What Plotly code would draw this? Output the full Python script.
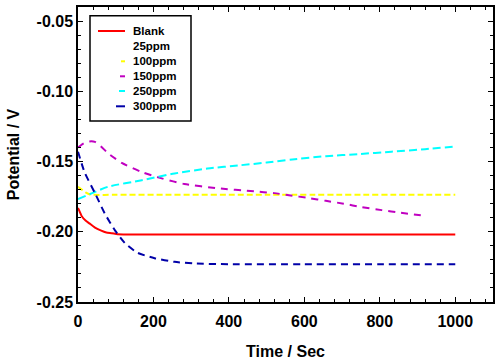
import plotly.graph_objects as go

# ---- data ----
t_blank = [0, 5, 10, 20, 30, 45, 60, 75, 90, 105, 150, 300, 500, 700, 1000]
v_blank = [-0.183, -0.186, -0.189, -0.192, -0.194, -0.197, -0.199, -0.2005, -0.201, -0.2017, -0.202, -0.202, -0.202, -0.202, -0.202]

t_25 = [0, 1000]
v_25 = [-0.165, -0.165]

t_100 = [0, 10, 20, 32, 100, 500, 1000]
v_100 = [-0.168, -0.170, -0.172, -0.1735, -0.1737, -0.1737, -0.1737]

t_150 = [0, 15, 30, 45, 60, 79, 116, 169, 222, 282, 369, 467, 520, 559, 612, 657, 704, 752, 805, 855, 920]
v_150 = [-0.140, -0.137, -0.1357, -0.136, -0.139, -0.144, -0.151, -0.1575, -0.162, -0.166, -0.169, -0.1712, -0.1725, -0.174, -0.176, -0.178, -0.180, -0.1825, -0.1846, -0.1865, -0.1887]

t_250 = [0, 36, 79, 169, 256, 343, 432, 500, 568, 657, 744, 831, 920, 1000]
v_250 = [-0.1768, -0.1727, -0.168, -0.1633, -0.1585, -0.155, -0.1526, -0.1507, -0.1485, -0.1462, -0.1447, -0.143, -0.1412, -0.1393]

t_300 = [0, 18, 45, 71, 98, 124, 158, 203, 256, 309, 400, 600, 800, 1000]
v_300 = [-0.143, -0.158, -0.1725, -0.187, -0.199, -0.208, -0.215, -0.2188, -0.2214, -0.2226, -0.2231, -0.2231, -0.2231, -0.2231]

x_tickvals = [0, 200, 400, 600, 800, 1000]
x_ticktext = ["0", "200", "400", "600", "800", "1000"]
y_tickvals = [-0.25, -0.20, -0.15, -0.10, -0.05]
y_ticktext = ["-0.25", "-0.20", "-0.15", "-0.10", "-0.05"]

names = ["Blank", "25ppm", "100ppm", "150ppm", "250ppm", "300ppm"]
colors = ["#ff0000", "#ffffff", "#ffff00", "#c000c0", "#00ffff", "#0000a8"]
dashes = ["solid", "solid", "6px,3px", "7px,6px", "8px,4px", "7px,5px"]
series = [(t_blank, v_blank), (t_25, v_25), (t_100, v_100), (t_150, v_150), (t_250, v_250), (t_300, v_300)]

# layout geometry (pixels)
W, H = 500, 363
ML, MR, MT, MB = 78, 7, 7, 61
PW, PH = W - ML - MR, H - MT - MB


def px2paper(px, py):
    return (px - ML) / PW, (H - MB - py) / PH


fig = go.Figure()
for (tx, vy), n, c, d in zip(series, names, colors, dashes):
    fig.add_trace(go.Scatter(x=tx, y=vy, mode="lines", name=n, showlegend=False,
                             line=dict(color=c, width=2, dash=d, shape="spline", smoothing=0.6)))

font_fam = "Liberation Sans, Arial, sans-serif"
axis_common = dict(showline=True, linecolor="black", linewidth=1.5, mirror="allticks",
                   ticks="inside", ticklen=5, tickwidth=1.2, tickcolor="black",
                   showgrid=False, zeroline=False, automargin=False,
                   tickfont=dict(family=font_fam, size=16, color="black", weight="bold"),
                   title_font=dict(family=font_fam, size=16, color="black", weight="bold"))

fig.update_xaxes(range=[0, 1100], tickvals=x_tickvals, ticktext=x_ticktext, ticklabelstandoff=4,
                 minor=dict(ticks="inside", dtick=40, tick0=0, ticklen=3, tickcolor="black"),
                 title_text="Time / Sec", title_standoff=17, **axis_common)
fig.update_yaxes(range=[-0.25, -0.04], tickvals=y_tickvals, ticktext=y_ticktext,
                 minor=dict(ticks="inside", dtick=0.01, tick0=-0.25, ticklen=3, tickcolor="black"),
                 title_text="Potential / V", title_standoff=13, **axis_common)

# manual legend (box, samples, labels)
shapes = []
annotations = []
x0, y0 = px2paper(90, 15.7)
x1, y1 = px2paper(191, 121)
shapes.append(dict(type="rect", xref="paper", yref="paper", x0=x0, y0=y1, x1=x1, y1=y0,
                   line=dict(color="black", width=1.5), fillcolor="white", layer="above"))
leg_y = [31, 46, 61.3, 76.3, 91, 106.3]
sample_start = [98, 98, 121, 120, 119, 116]
for n, c, yy, sx in zip(names, colors, leg_y, sample_start):
    ax0, ay = px2paper(sx, yy)
    ax1, _ = px2paper(125, yy)
    shapes.append(dict(type="line", xref="paper", yref="paper", x0=ax0, y0=ay, x1=ax1, y1=ay,
                       line=dict(color=c, width=2), layer="above"))
    tx, ty = px2paper(131, yy)
    annotations.append(dict(x=tx, y=ty, xref="paper", yref="paper", text=n, showarrow=False,
                            xanchor="left", yanchor="middle",
                            font=dict(family=font_fam, size=11.5, color="black", weight="bold")))

fig.update_layout(width=W, height=H,
                  margin=dict(l=ML, r=MR, t=MT, b=MB),
                  plot_bgcolor="white", paper_bgcolor="white",
                  showlegend=False, shapes=shapes, annotations=annotations)

fig.write_html("out.html", config={"displayModeBar": False},
               post_script="document.body.style.margin='0';document.body.style.padding='0';")
